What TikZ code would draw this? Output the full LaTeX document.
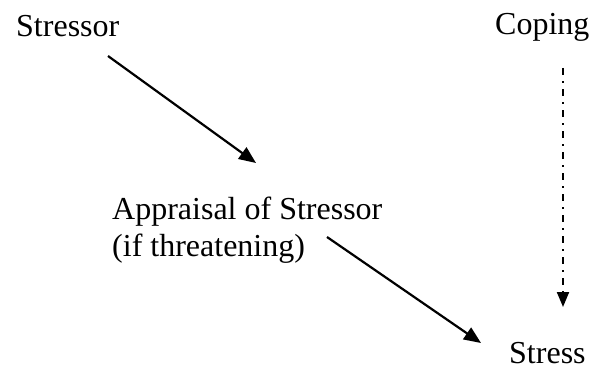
\documentclass[tikz,border=0pt]{standalone}
\usepackage{fontspec}
\setmainfont{Liberation Serif}
\usetikzlibrary{arrows.meta}
\begin{document}
\begin{tikzpicture}[x=1pt,y=-1pt,
  lbl/.style={anchor=base west,inner sep=0pt,font=\fontsize{32}{37}\selectfont},
  conn/.style={line width=2.2pt,-{Triangle[length=17pt,width=14pt]}},
  dconn/.style={line width=2pt,dash pattern=on 7pt off 6pt on 2pt off 6pt,-{Triangle[length=15pt,width=12pt]}}]
\useasboundingbox (0,0) rectangle (594,369);
\node[lbl] (stressor) at (16,37) {Stressor};
\node[lbl] (coping) at (495,35) {Coping};
\node[lbl,align=left] (appraisal) at (112,256) {Appraisal of Stressor\\(if threatening)};
\node[lbl] (stress) at (509,363) {Stress};
\coordinate (a1s) at (108,56);
\coordinate (a1e) at (256,163);
\coordinate (a2s) at (327,237);
\coordinate (a2e) at (481,343);
\coordinate (a3s) at (563,68);
\coordinate (a3e) at (563,307);
\draw[conn] (a1s) -- (a1e);
\draw[conn] (a2s) -- (a2e);
\draw[dconn] (a3s) -- (a3e);
\end{tikzpicture}
\end{document}
